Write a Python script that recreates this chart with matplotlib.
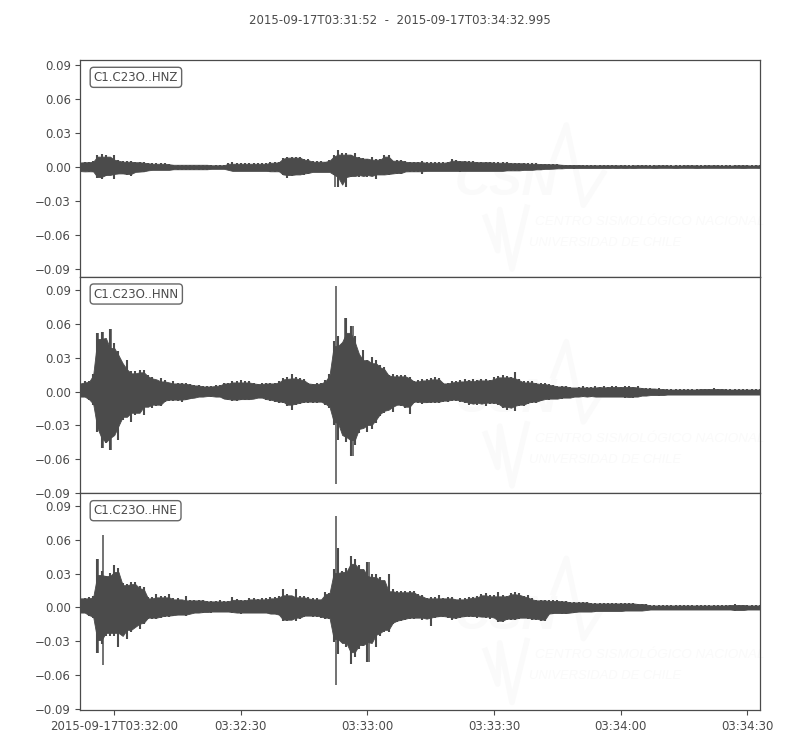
import numpy as np
import matplotlib
matplotlib.use("Agg")
import matplotlib.pyplot as plt

## colours of the trace and of the text
GREY = '#4b4b4b'
WMARK = '#fafafa'

plt.rcParams['font.family'] = 'DejaVu Sans'
plt.rcParams['font.size'] = 8.5

title = '2015-09-17T03:31:52  -  2015-09-17T03:34:32.995'
stations = ['C1.C23O..HNZ', 'C1.C23O..HNN', 'C1.C23O..HNE']
tick_secs = [8, 38, 68, 98, 128, 158]
tick_names = ['2015-09-17T03:32:00', '03:32:30', '03:33:00', '03:33:30', '03:34:00', '03:34:30']
y_ticks = [-0.09, -0.06, -0.03, 0.0, 0.03, 0.06, 0.09]
y_limits = [(-0.0971, 0.0944), (-0.0906, 0.1022), (-0.0909, 0.1012)]

## envelope of each trace, one value per second, in 1e-3 units
hnz_up = [4.5,4,4.5,5,10,11,10,7,10,6,
          5,5,5,4.5,4.5,4,3.5,3,3,3,
          3,2.5,2,2,2,2,2,2,2,2,
          2,1.5,1.5,1.5,1.5,3,4,3,3,3.5,
          3,3,3.5,3,3,4,4,4.5,8,9,
          9,9,9,7,6.5,5,5,5,4.5,6,
          10,15,12,12,10,12,9,8,7,9,
          6.5,7,10,10,5,6,6,5,4.5,4.5,
          4.5,5,4,4,4,4,4,4.5,6.5,6,
          5.5,5.5,5,5,4.5,4.5,4.5,4,4.5,4,
          4,4,3.5,3.5,3.5,3.5,3,3,3,2.7,
          2.7,2.5,2.5,2.4,2,1.8,1.8,2,1.8,1.5,
          1.5,1.8,1.5,1.2,1.5,1.5,1.2,1.5,1.5,1.2,
          1.5,1.2,1.5,1.5,1.2,1.5,1.2,1.5,1.5,1.2,
          1.5,1.2,1.5,1.2,1.5,1.5,1.2,1.5,1.2,1.5,
          1.5,1.2,1.5,1.2,1.5,1.2,1.5,1.5,1.2,1.5,
          1.2,1.5]
hnz_lo = [4.5,4,4.5,4.4,10,11,8,7,11,6.5,
          6,7,8,5,4.7,4.4,3.5,3,3,3,
          3,3,2.4,2.4,2.4,2.4,2.4,2.4,2.4,2.4,
          2.4,2,2,2,2,3,4,4,4,4,
          4,4,4,4,4,4.4,4.4,4.4,7.5,9.5,
          8,7.5,6.5,7.5,6,5,5,5,5,5,
          7.5,18,10,17.5,9,7.5,9,8,9,7.5,
          11,7.5,7.5,7,6,6.5,6,4.5,4.4,4.4,
          4.4,6,4,4,4,4,4,4,4,4,
          5,4,4,4,4,4,4,4,4,4,
          4,3.5,3.5,3.5,3.5,3,3,3,2.5,2.5,
          2,2,1.8,1.5,1.5,1.2,1.2,1.5,1.2,1.2,
          1.2,1.2,1,1.2,1.2,1,1.2,1,1.2,1,
          1.2,1,1.2,1,1,1.2,1,1.2,1,1,
          1.2,1,1.2,1,1,1.2,1,1.2,1,1,
          1.2,1,1,1.2,1,1,1.2,1,1.2,1,
          1,1.2]

hnn_up = [7,9,9.5,16,52,53,42,56,43,36,
          22,28,18,18,19,19,15,13,10,12,
          10,8,9,8,8,7.5,7,6,6,5,
          4.5,5,5.5,6,8,8,9,9,10,9,
          9,8,7,7.5,8,8,8,9,12,12.5,
          16,13,12,11,8,7,7.5,8,10,16,
          45,49,31,65,58,49,31,37,28,31,
          28,24,22,15,16,15,15,15,13,9,
          10,11,11,12,13,12,8,8,9,9.5,
          10,11,10,11,10,11,11,10,12.5,14,
          15,14,13,17,11,9,9,9,8,7.5,
          7.5,6.5,6,5,5,5,4,3.5,4,4.5,
          4,4,4.5,4,4.5,4,5,4.5,4,4.5,
          5,4,4.5,3.5,3,3,2.5,3,2.5,2,
          2,2.5,2,2,2.5,2,2,2.5,2.5,2,
          2.7,2.5,2,2.5,2,2,2.5,2,2,2.5,
          2,2]
hnn_lo = [5,5,7.5,12,36,50,46,52,34,43,
          25,18,27,21,15,21,12,15,13,13,
          9,8,8,8,9,7.5,6.5,6,5,5,
          4,4.5,5,5,7,7.5,8,8,7.5,7.5,
          7.5,7,5,6,7.5,8,9,10,10,13,
          16,12,11,10,10,10,10,8,12,15,
          30,43,31,45,57,48,37,28,36,33,
          28,22,19,15,18,12,13,15,20,10,
          10,11,10.5,10,10,10,9,9,8,8,
          9,10,12,11,12,10,13,11,11,12,
          15,16,14,17,13,13,11,10,10,8.5,
          7,7.5,7,5.5,7,6,6,5,4.5,5,
          4.5,5,4.5,5,5,5,4.5,5,5,5.5,
          5,5.5,5,4,4,3.5,3.5,4,3.5,3,
          3,3,3.5,3,3,3,3,3.5,3,3,
          3.5,3,3,3,3.5,3,3,3,3.5,3,
          3,3]

hne_up = [10,8,9,10,43,32,28,31,38,35,
          22,21,23,23,19,18,9,9,12,10,
          10,12,8,8,7,10,7,7,7,7,
          6,6,6,7,6,6,9,7.5,7,7,
          8,8,7.5,8,8,9,9,10,16,12,
          10,16,10,10,9,8,8,7,14,13,
          34,53,32,35,46,43,38,31,40,30,
          30,27,15,30,16,15,15,15,15,15,
          12,11,8.5,9,9,11,8,9,9,7,
          8,8,9,9.5,10,12,13,11,11,14,
          11,10,13,14,12.5,10,11,8,7,7,
          7,6.5,6.5,6.5,6,6,5,5,5,5,
          5,4,4,4,4,4,4,4,4,4,
          4,4,3.5,3.5,3,2,2,2.5,2,2,
          2,2,2,2.5,2,2,2,2,2,2,
          2,2,2,2.5,2,3,2.5,2,2.5,2,
          2,2]
hne_lo = [5,5,7.5,9,40,32,25,25,25,35,
          21,28,22,16,19,15,10,10,10,9,
          8,8,7.5,7,7,7.5,6,5,5,4.5,
          4,4.5,4,4,3.5,4,4.5,5,6,5,
          5,5,5,5,5,6,6,7,12,12,
          10,12,10,8,7.5,8,8,9,10,10,
          31,41,25,35,50,44,37,34,48,27,
          35,25,22,22,15,13,12,11,10,10,
          7,11,10,16,9,8.5,8.5,9,11,10,
          9,8,8.5,8,9,8.5,9,10,8.5,13,
          13,11,11,11.5,10,9,10,11,11,12,
          12,6,5.5,5,5.5,6,5,4.5,4,4,
          4,3.5,4,3.5,3.5,3.5,3.5,3.5,3.5,3,
          3,3,3,3,2.5,2,2,2,2,2,
          2,2,2,2,2,2,2,2,2,2,
          2,2,2,2,2,3,2.5,2,2.5,2,
          2,2]
uppers = [hnz_up, hnn_up, hne_up]
lowers = [hnz_lo, hnn_lo, hne_lo]

## the tallest single swings: second, top, bottom (1e-3 units)
spike_t = [[60.4, 63.0], [4.1, 5.4, 7.3, 60.5, 62.6, 64.5], [4.2, 5.3, 60.5, 64.0, 68.4]]
spike_up = [[7, 7], [52, 53, 56, 94, 65, 58], [43, 64, 81, 46, 40]]
spike_lo = [[18, 17.5], [30, 50, 52, 82, 40, 57], [40, 51, 69, 50, 48]]


def body(vals):
    """le corps plein de la trace: le milieu des 3 voisins"""
    res = []
    for k in range(len(vals)):
        res.append(np.median(vals[max(k - 1, 0):k + 2]))
    return np.array(res) / 1000


def watermark(ax):
    """logo CSN tres pale, meme place dans chaque panneau"""
    ax.text(0.551, 0.33, 'CSN', transform=ax.transAxes, color=WMARK, fontsize=35,
            fontstyle='italic', fontweight='bold', family='Liberation Sans',
            ha='left', va='bottom', zorder=0)
    ax.text(0.669, 0.252, 'CENTRO SISMOLÓGICO NACIONAL', transform=ax.transAxes, color=WMARK,
            fontsize=9.7, fontstyle='italic', family='Liberation Sans', va='center', zorder=0)
    ax.text(0.660, 0.155, 'UNIVERSIDAD DE CHILE', transform=ax.transAxes, color=WMARK,
            fontsize=9.4, fontstyle='italic', family='Liberation Sans', va='center', zorder=0)
    ax.plot([0.696, 0.715, 0.740, 0.770], [0.54, 0.70, 0.33, 0.48], color=WMARK, lw=4,
            transform=ax.transAxes, zorder=0)
    ax.plot([0.596, 0.614, 0.617, 0.635, 0.657], [0.275, 0.12, 0.31, 0.035, 0.32], color=WMARK, lw=4,
            transform=ax.transAxes, zorder=0)


fig = plt.figure(figsize=(8, 7.5), dpi=100)
gs = fig.add_gridspec(3, 1, left=0.1006, right=0.95, top=0.92, bottom=0.0533, hspace=0)
fig.text(0.5, 0.9727, title, ha='center', va='center', color=GREY, fontsize=8.45)

for i in range(3):
    ax = fig.add_subplot(gs[i])
    up = np.array(uppers[i]) / 1000
    lo = -np.array(lowers[i]) / 1000
    secs = np.arange(len(up))

    watermark(ax)
    ## corps plein + un trait vertical par seconde pour les pointes
    ax.fill_between(secs, -body(lowers[i]) * 0.9, body(uppers[i]) * 0.9, color=GREY, lw=0.6, zorder=2)
    ax.vlines(secs, lo, up, color=GREY, lw=1.5, zorder=2)
    ax.vlines(spike_t[i], -np.array(spike_lo[i]) / 1000, np.array(spike_up[i]) / 1000,
              color=GREY, lw=1.1, zorder=2)

    ax.set_xlim(0, 161)
    ax.set_ylim(*y_limits[i])
    ax.set_yticks(y_ticks)
    ax.set_yticklabels(['−%.2f' % -v if v < 0 else '%.2f' % v for v in y_ticks])
    ax.tick_params(axis='y', colors=GREY, length=3.5, width=0.8)
    if i == 2:
        ax.set_xticks(tick_secs)
        ax.set_xticklabels(tick_names)
        ax.tick_params(axis='x', colors=GREY, length=3.5, width=0.8)
    else:
        ax.set_xticks([])
    for s in ax.spines.values():
        s.set_color(GREY)
        s.set_linewidth(0.9)
    ax.text(0.0195, 0.92, stations[i], transform=ax.transAxes, color=GREY, fontsize=8.5,
            va='center', ha='left',
            bbox=dict(boxstyle='round,pad=0.3', fc='white', ec='#666666', lw=1))

fig.savefig('out.png', dpi=100)
